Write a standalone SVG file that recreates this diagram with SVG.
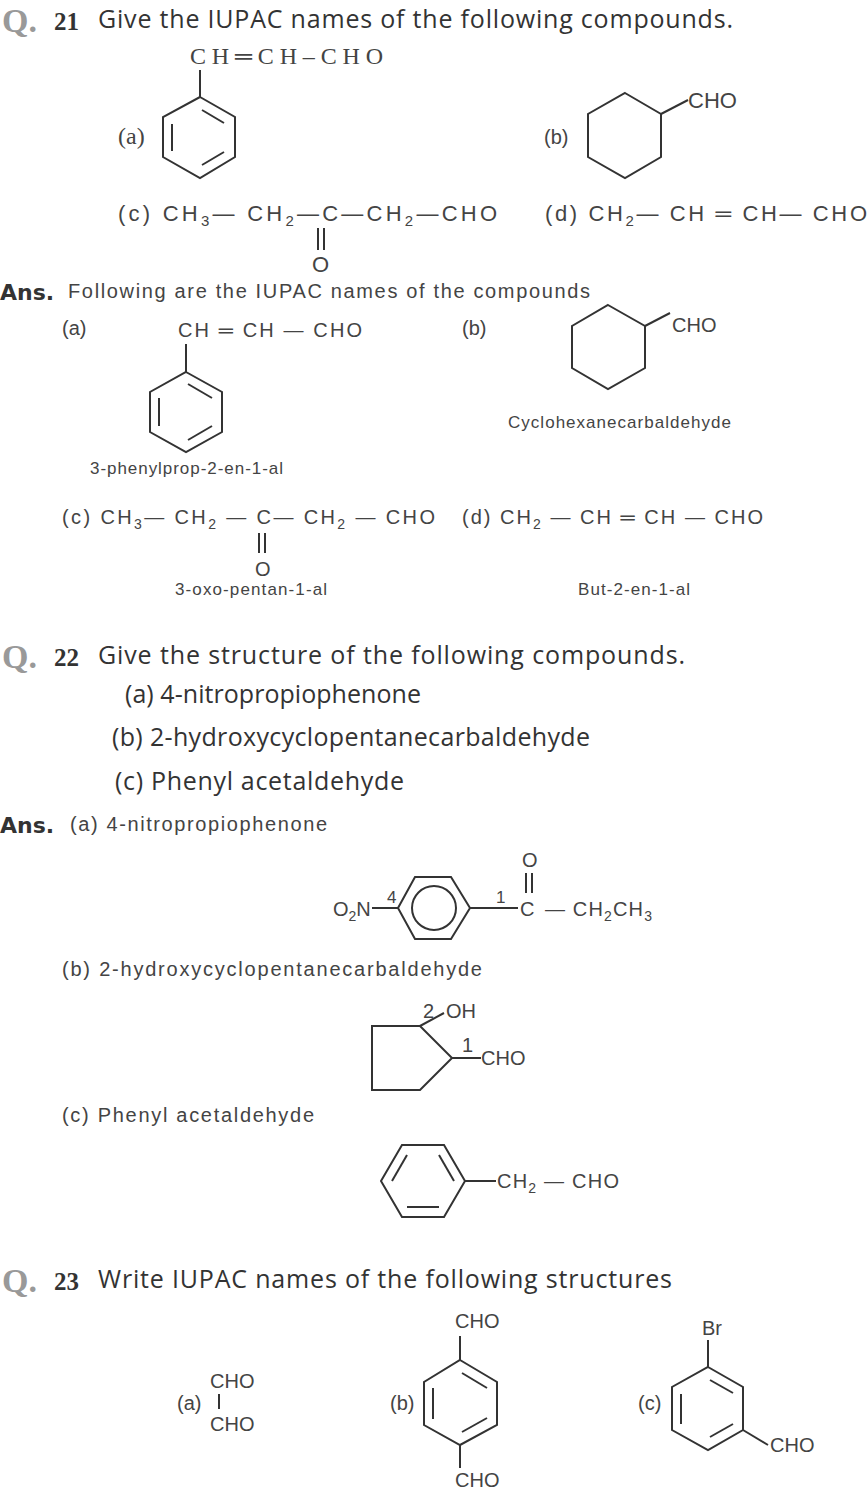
<svg xmlns="http://www.w3.org/2000/svg" width="868" height="1493" viewBox="0 0 868 1493">
<style>
text{font-family:"Liberation Sans",Arial,sans-serif;fill:#444;font-size:20px}
.h{font-family:"Open Sans","DejaVu Sans",sans-serif;font-size:25px;fill:#333}
.q{font-family:"Liberation Serif",serif;font-size:34px;font-weight:bold;fill:#999}
.n{font-family:"Liberation Serif",serif;font-size:25px;font-weight:bold;fill:#333}
.a{font-family:"DejaVu Sans",sans-serif;font-size:22px;font-weight:bold;fill:#333}
.s{font-size:17px}
.f{font-family:"Liberation Serif",serif;font-size:24px}
.r{font-size:22px}
.b{fill:none;stroke:#333;stroke-width:2}
</style>
<rect width="868" height="1493" fill="#fff"/>
<!-- Q21 -->
<text class="q" x="2" y="32">Q.</text><text class="n" x="54" y="30">21</text>
<text class="h" x="98" y="28" textLength="635">Give the IUPAC names of the following compounds.</text>
<text class="f" x="190" y="64" textLength="193">CH═CH–CHO</text>
<text class="f" x="118" y="144">(a)</text>
<g class="b"><line x1="200" y1="70" x2="200" y2="97"/><polygon points="200,97 235,117 235,157 200,178 163,157 163,117"/><line x1="172" y1="124" x2="172" y2="151"/><line x1="202" y1="110" x2="224" y2="123"/><line x1="202" y1="165" x2="224" y2="152"/></g>
<text x="544" y="144">(b)</text>
<g class="b"><polygon points="625,93 661,114 661,157 625,178 588,157 588,114"/><line x1="661" y1="114" x2="688" y2="100"/></g>
<text class="r" x="688" y="108">CHO</text>
<text class="r" x="118" y="221" textLength="379">(c) CH<tspan font-size="15" dy="5">3</tspan><tspan dy="-5">— CH</tspan><tspan font-size="15" dy="5">2</tspan><tspan dy="-5">—C—CH</tspan><tspan font-size="15" dy="5">2</tspan><tspan dy="-5">—CHO</tspan></text>
<g class="b" stroke-width="1.5"><line x1="318" y1="228" x2="318" y2="250"/><line x1="324" y1="228" x2="324" y2="250"/></g>
<text class="r" x="312" y="272">O</text>
<text class="r" x="545" y="221" textLength="322">(d) CH<tspan font-size="15" dy="5">2</tspan><tspan dy="-5">— CH ═ CH— CHO</tspan></text>
<!-- Ans -->
<text class="a" x="0" y="300">Ans.</text>
<text x="68" y="298" textLength="522">Following are the IUPAC names of the compounds</text>
<text x="62" y="335">(a)</text>
<text x="178" y="337" textLength="184">CH ═ CH — CHO</text>
<g class="b"><line x1="186" y1="344" x2="186" y2="372"/><polygon points="186,372 222,392 222,432 186,452 150,432 150,392"/><line x1="159" y1="398" x2="159" y2="426"/><line x1="188" y1="384" x2="212" y2="398"/><line x1="188" y1="440" x2="212" y2="426"/></g>
<text class="s" x="90" y="474" textLength="193">3-phenylprop-2-en-1-al</text>
<text x="462" y="335">(b)</text>
<g class="b"><polygon points="608,305 645,326 645,368 608,389 572,368 572,326"/><line x1="645" y1="326" x2="670" y2="313"/></g>
<text x="672" y="332">CHO</text>
<text class="s" x="508" y="428" textLength="223">Cyclohexanecarbaldehyde</text>
<text x="62" y="524" textLength="373">(c) CH<tspan font-size="14" dy="5">3</tspan><tspan dy="-5">— CH</tspan><tspan font-size="14" dy="5">2</tspan><tspan dy="-5"> — C— CH</tspan><tspan font-size="14" dy="5">2</tspan><tspan dy="-5"> — CHO</tspan></text>
<g class="b" stroke-width="1.5"><line x1="259" y1="533" x2="259" y2="553"/><line x1="265" y1="533" x2="265" y2="553"/></g>
<text x="255" y="576">O</text>
<text class="s" x="175" y="595" textLength="152">3-oxo-pentan-1-al</text>
<text x="462" y="524" textLength="301">(d) CH<tspan font-size="14" dy="5">2</tspan><tspan dy="-5"> — CH ═ CH — CHO</tspan></text>
<text class="s" x="578" y="595" textLength="112">But-2-en-1-al</text>
<!-- Q22 -->
<text class="q" x="2" y="668">Q.</text><text class="n" x="54" y="666">22</text>
<text class="h" x="98" y="664" textLength="587">Give the structure of the following compounds.</text>
<text class="h" x="125" y="703" textLength="296">(a) 4-nitropropiophenone</text>
<text class="h" x="112" y="746" textLength="478">(b) 2-hydroxycyclopentanecarbaldehyde</text>
<text class="h" x="115" y="790" textLength="289">(c) Phenyl acetaldehyde</text>
<text class="a" x="0" y="833">Ans.</text>
<text x="70" y="831" textLength="257">(a) 4-nitropropiophenone</text>
<text x="522" y="867">O</text>
<g class="b" stroke-width="1.5"><line x1="526" y1="873" x2="526" y2="893"/><line x1="532" y1="873" x2="532" y2="893"/></g>
<text x="333" y="916">O<tspan font-size="14" dy="5">2</tspan><tspan dy="-5">N</tspan></text>
<text class="s" x="387" y="903">4</text><text class="s" x="496" y="903">1</text>
<g class="b"><line x1="372" y1="908" x2="398" y2="908"/><polygon points="398,908 415,877 451,877 470,908 451,939 415,939"/><circle cx="434" cy="908" r="22"/><line x1="470" y1="908" x2="518" y2="908"/></g>
<text x="520" y="916">C</text>
<text x="545" y="916" textLength="107">— CH<tspan font-size="14" dy="5">2</tspan><tspan dy="-5">CH</tspan><tspan font-size="14" dy="5">3</tspan></text>
<text x="62" y="976" textLength="420">(b) 2-hydroxycyclopentanecarbaldehyde</text>
<g class="b"><polygon points="372,1026 420,1026 452,1058 420,1090 372,1090"/><line x1="420" y1="1026" x2="444" y2="1013"/><line x1="452" y1="1058" x2="481" y2="1058"/></g>
<text x="423" y="1018">2</text><text x="446" y="1018">OH</text>
<text x="462" y="1052">1</text><text x="481" y="1065">CHO</text>
<text x="62" y="1122" textLength="252">(c) Phenyl acetaldehyde</text>
<g class="b"><polygon points="381,1181 402,1145 444,1145 465,1181 444,1217 402,1217"/><line x1="392" y1="1181" x2="407" y2="1155"/><line x1="439" y1="1155" x2="454" y2="1181"/><line x1="407" y1="1207" x2="439" y2="1207"/><line x1="465" y1="1181" x2="496" y2="1181"/></g>
<text x="497" y="1188" textLength="122">CH<tspan font-size="14" dy="5">2</tspan><tspan dy="-5"> — CHO</tspan></text>
<!-- Q23 -->
<text class="q" x="2" y="1292">Q.</text><text class="n" x="54" y="1290">23</text>
<text class="h" x="98" y="1288" textLength="574">Write IUPAC names of the following structures</text>
<text x="210" y="1388">CHO</text><text x="177" y="1410">(a)</text>
<line class="b" stroke-width="1.5" x1="219" y1="1394" x2="219" y2="1409"/>
<text x="210" y="1431">CHO</text>
<text x="455" y="1328">CHO</text><text x="390" y="1410">(b)</text><text x="455" y="1487">CHO</text>
<g class="b"><line x1="460" y1="1336" x2="460" y2="1360"/><polygon points="460,1360 497,1382 497,1425 460,1445 424,1425 424,1382"/><line x1="433" y1="1388" x2="433" y2="1419"/><line x1="462" y1="1373" x2="487" y2="1388"/><line x1="462" y1="1432" x2="487" y2="1418"/><line x1="460" y1="1445" x2="460" y2="1468"/></g>
<text x="702" y="1335">Br</text><text x="638" y="1410">(c)</text><text x="770" y="1452">CHO</text>
<g class="b"><line x1="708" y1="1340" x2="708" y2="1367"/><polygon points="708,1367 743,1387 743,1430 708,1450 672,1430 672,1387"/><line x1="681" y1="1394" x2="681" y2="1424"/><line x1="710" y1="1380" x2="733" y2="1393"/><line x1="710" y1="1437" x2="733" y2="1424"/><line x1="743" y1="1430" x2="768" y2="1445"/></g>
</svg>
